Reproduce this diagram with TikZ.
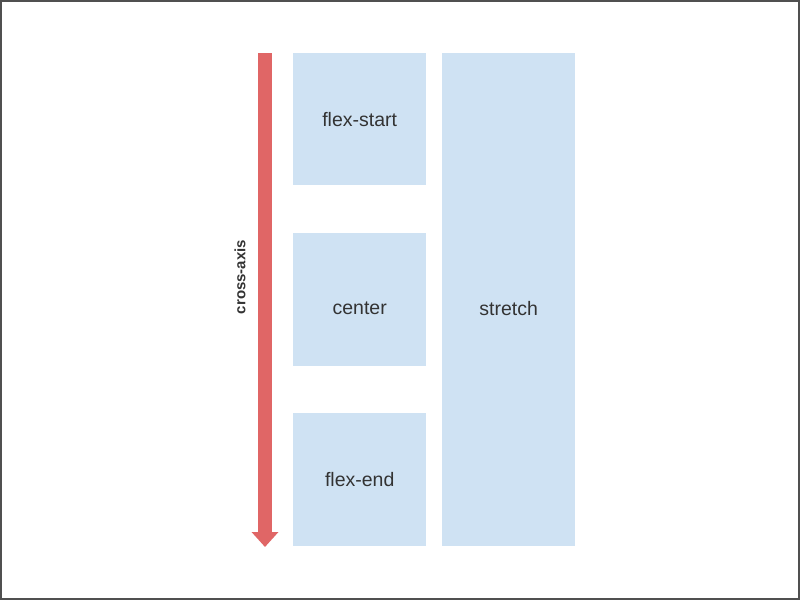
\documentclass[tikz,border=0pt]{standalone}
\usepackage{fontspec}
\setmainfont{Liberation Sans}
\usetikzlibrary{arrows.meta, positioning}

\definecolor{boxblue}{RGB}{207,226,243}
\definecolor{axisred}{RGB}{224,102,102}
\definecolor{textgray}{RGB}{51,51,51}
\definecolor{framegray}{RGB}{80,80,80}

\tikzset{
    item/.style={fill=boxblue, minimum width=133pt, inner sep=0pt,
        text=textgray, font=\fontsize{19.5}{22}\selectfont},
    lowtext/.style={label={[text=textgray, font=\fontsize{19.5}{22}\selectfont,
        yshift=-9pt]center:#1}},
    axisarrow/.style={axisred, line width=14pt,
        -{Triangle[width=26pt, length=15pt]}},
}

\begin{document}
\begin{tikzpicture}[x=1pt, y=-1pt]

    % Frame
    \useasboundingbox (0,0) rectangle (800,600);
    \draw[framegray, line width=1.5pt] (0.75,0.75) rectangle (799,599);

    % Cross axis
    \coordinate (axis start) at (265,53);
    \coordinate (axis end) at (265,547);
    \draw[axisarrow] (axis start) -- (axis end);
    \node[rotate=90, text=textgray, font=\bfseries\fontsize{15}{17}\selectfont]
        (axislabel) at (240,277) {cross-axis};

    % Items
    \node[item, minimum height=132pt, anchor=north west] (flexstart) at (293,53) {flex-start};
    \node[item, minimum height=133pt, anchor=north west, lowtext=center] (center) at (293,233) {};
    \node[item, minimum height=133pt, anchor=north west] (flexend) at (293,413) {flex-end};
    \node[item, minimum height=493pt, anchor=north west, lowtext=stretch] (stretch) at (442,53) {};

\end{tikzpicture}
\end{document}
